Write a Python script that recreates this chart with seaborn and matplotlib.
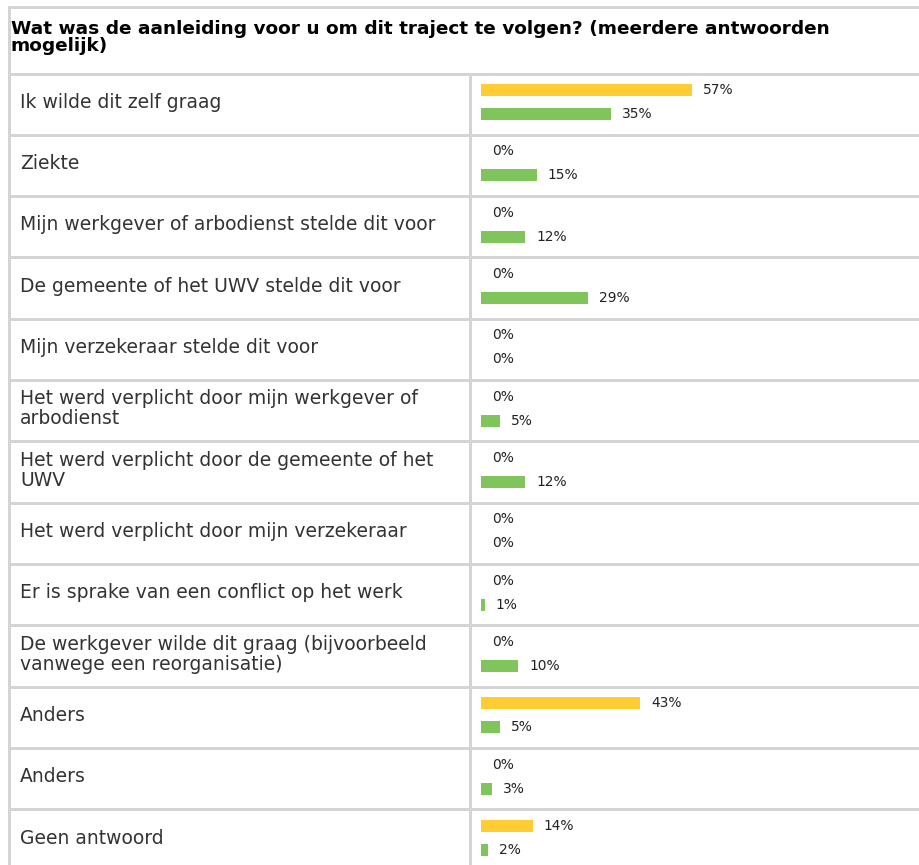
import matplotlib
matplotlib.use("Agg")
import matplotlib.pyplot as plt
import seaborn as sns
import pandas as pd
import numpy as np

# ---------------- data ----------------
title = "Wat was de aanleiding voor u om dit traject te volgen? (meerdere antwoorden\nmogelijk)"
categories = [
    "Ik wilde dit zelf graag",
    "Ziekte",
    "Mijn werkgever of arbodienst stelde dit voor",
    "De gemeente of het UWV stelde dit voor",
    "Mijn verzekeraar stelde dit voor",
    "Het werd verplicht door mijn werkgever of\narbodienst",
    "Het werd verplicht door de gemeente of het\nUWV",
    "Het werd verplicht door mijn verzekeraar",
    "Er is sprake van een conflict op het werk",
    "De werkgever wilde dit graag (bijvoorbeeld\nvanwege een reorganisatie)",
    "Anders",
    "Anders",
    "Geen antwoord",
]
series_names = ["Reeks 1", "Reeks 2"]
yellow_values = [57, 0, 0, 0, 0, 0, 0, 0, 0, 0, 43, 0, 14]
green_values = [35, 15, 12, 29, 0, 5, 12, 0, 1, 10, 5, 3, 2]
colors = ["#ffcc33", "#80c45c"]

# ---------------- layout (pixels) ----------------
W, H = 919, 865
X0 = 481.0          # pixel where bars start
PXPCT = 3.7         # pixels per percent
ROW0 = 102.0        # pixel centre of first bar pair
ROWH = 61.33        # row height in pixels
LINE_TOP = 73.5     # first row separator
GRID = "#d4d4d4"
LW = 3 * 0.72


def xd(px):
    return (px - X0) / PXPCT


def yd(py):
    return (py - ROW0) / ROWH


n = len(categories)
df = pd.DataFrame({
    "row": list(range(n)) * 2,
    "series": [series_names[0]] * n + [series_names[1]] * n,
    "value": yellow_values + green_values,
})

fig = plt.figure(figsize=(W / 100, H / 100), dpi=100)
ax = fig.add_axes([0, 0, 1, 1])

bar_off = 12.0 / ROWH
sns.barplot(data=df, x="value", y="row", hue="series", hue_order=series_names,
            palette=colors, orient="h", dodge=True, width=4 * bar_off, gap=0.5,
            saturation=1, errorbar=None, legend=False, linewidth=0,
            edgecolor="none", ax=ax)

ax.set_xlim(xd(0), xd(W))
ax.set_ylim(yd(H), yd(0))
ax.axis("off")

# table grid
ax.plot([xd(8), xd(W)], [yd(7), yd(7)], color=GRID, lw=LW, solid_capstyle="butt")
ax.plot([xd(9), xd(9)], [yd(5.5), yd(H)], color=GRID, lw=LW, solid_capstyle="butt")
for k in range(n + 1):
    yy = yd(LINE_TOP + ROWH * k)
    ax.plot([xd(8), xd(W)], [yy, yy], color=GRID, lw=LW, solid_capstyle="butt")
ax.plot([xd(470), xd(470)], [yd(LINE_TOP), yd(H)], color=GRID, lw=LW,
        solid_capstyle="butt")

# title
ax.text(xd(11), yd(20), title, ha="left", va="top", fontsize=13.3,
        fontweight="bold", color="#000000", linespacing=0.92)

# row labels and value labels
for i, cat in enumerate(categories):
    cy = LINE_TOP + ROWH * (i + 0.5) - 2
    ax.text(xd(20), yd(cy), cat, ha="left", va="center", fontsize=13.5,
            color="#333333", linespacing=1.05)
    for vals, off in ((yellow_values, -bar_off), (green_values, bar_off)):
        v = vals[i]
        ax.text(v + 11 / PXPCT, i + off, f"{v}%", ha="left", va="center",
                fontsize=9.9, color="#222222")

fig.savefig("out.png", dpi=100)
